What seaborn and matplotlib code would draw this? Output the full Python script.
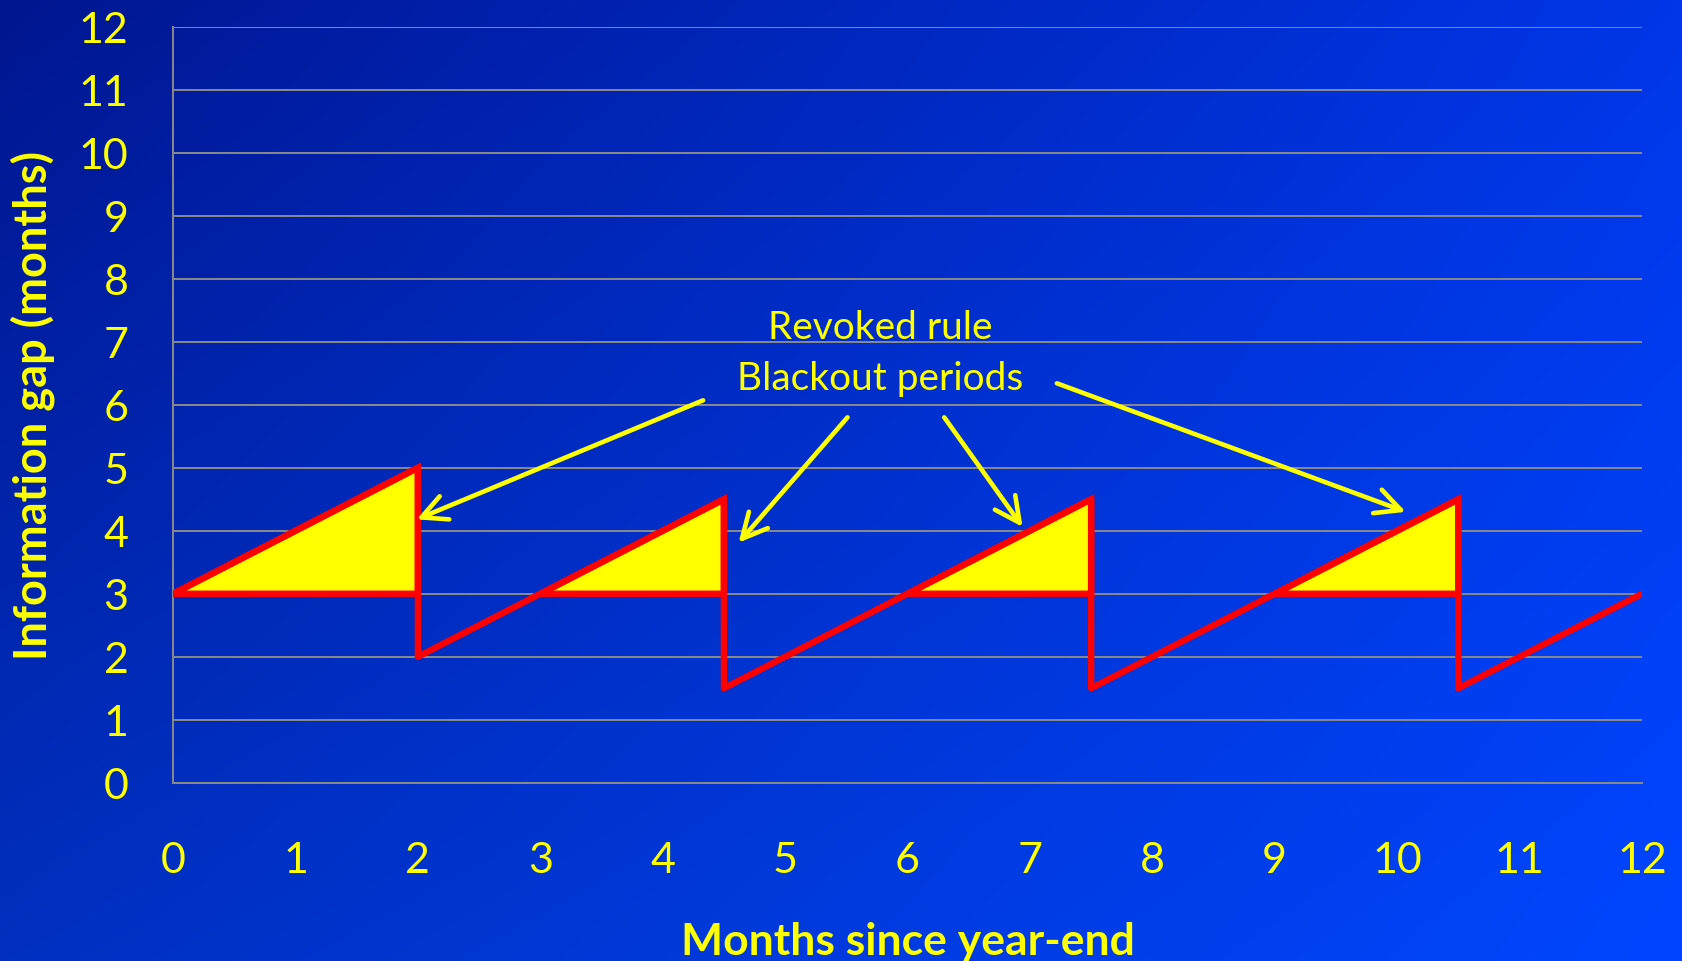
import numpy as np
import matplotlib
matplotlib.use("Agg")
import matplotlib.pyplot as plt
import seaborn as sns
import pandas as pd

# ---- data ----
months = [0, 2, 2, 4.5, 4.5, 7.5, 7.5, 10.5, 10.5, 12]
gap = [3, 5, 2, 4.5, 1.5, 4.5, 1.5, 4.5, 1.5, 3]
blackout_start = [0, 3, 6, 9]
blackout_end = [2, 4.5, 7.5, 10.5]
blackout_peak = [5, 4.5, 4.5, 4.5]
base_gap = 3
x_ticks = list(range(0, 13))
y_ticks = list(range(0, 13))
annotation_lines = ["Revoked rule", "Blackout periods"]
arrow_tails = [(4.33, 6.07), (5.51, 5.80), (6.30, 5.80), (7.22, 6.34)]
arrow_heads = [(1.99, 4.18), (4.62, 3.81), (6.94, 4.06), (10.07, 4.30)]

sns.set_theme(style="white")
plt.rcParams['font.family'] = ['Lato', 'DejaVu Sans']

YEL = "#ffff00"
RED = "#ff0000"
GRID = "#8a8a8a"

fig = plt.figure(figsize=(16.82, 9.62), dpi=100)

# background gradient
bg = fig.add_axes([0, 0, 1, 1], zorder=-10)
ny, nx = 200, 350
u = np.linspace(0, 1, nx)[None, :]
v = np.linspace(0, 1, ny)[:, None]
tl = np.array([0, 22, 144]) / 255
tr = np.array([0, 54, 232]) / 255
bl = np.array([0, 48, 192]) / 255
br = np.array([0, 70, 255]) / 255
img = ((1 - u)[..., None] * (1 - v)[..., None] * tl + u[..., None] * (1 - v)[..., None] * tr
       + (1 - u)[..., None] * v[..., None] * bl + u[..., None] * v[..., None] * br)
bg.imshow(img, aspect='auto', extent=[0, 1, 0, 1], origin='upper', interpolation='bilinear')
bg.set_axis_off()

ax = fig.add_axes([0.1029, 0.1853, 0.9762 - 0.1029, 0.9712 - 0.1853])
ax.set_facecolor('none')

# blackout triangles
for s, e, p in zip(blackout_start, blackout_end, blackout_peak):
    ax.fill([s, e, e], [base_gap, p, base_gap], facecolor=YEL, edgecolor=RED,
            linewidth=4.6, joinstyle='miter', zorder=3)

df = pd.DataFrame({"Months since year-end": months, "Information gap (months)": gap})
sns.lineplot(data=df, x="Months since year-end", y="Information gap (months)",
             estimator=None, sort=False, color=RED, linewidth=4.6, ax=ax, zorder=4)

ax.set_xlim(0, 12)
ax.set_ylim(0, 12)
ax.set_xticks(x_ticks)
ax.set_yticks(y_ticks)
ax.tick_params(axis='both', length=0, labelcolor=YEL, labelsize=31)
ax.tick_params(axis='x', pad=42)
ax.tick_params(axis='y', pad=32)
ax.grid(axis='y', color=GRID, linewidth=1.4)
ax.grid(axis='x', visible=False)
for side in ['top', 'right']:
    ax.spines[side].set_visible(False)
for side in ['left', 'bottom']:
    ax.spines[side].set_color(GRID)
    ax.spines[side].set_linewidth(1.4)

ax.set_xlabel("Months since year-end", color=YEL, fontsize=32, fontweight='bold', labelpad=30)
ax.set_ylabel("Information gap (months)", color=YEL, fontsize=32.5, fontweight='bold', labelpad=17)

ax.text(5.78, 7.23, annotation_lines[0], color=YEL, fontsize=28, ha='center', va='center', zorder=5)
ax.text(5.78, 6.42, annotation_lines[1], color=YEL, fontsize=28, ha='center', va='center', zorder=5)

for (tx, ty), (hx, hy) in zip(arrow_tails, arrow_heads):
    ax.annotate('', xy=(hx, hy), xytext=(tx, ty),
                arrowprops=dict(arrowstyle='->,head_length=0.9,head_width=0.45',
                                color=YEL, lw=3.3, shrinkA=0, shrinkB=0,
                                mutation_scale=20),
                zorder=5)

fig.savefig("out.png", dpi=100)
